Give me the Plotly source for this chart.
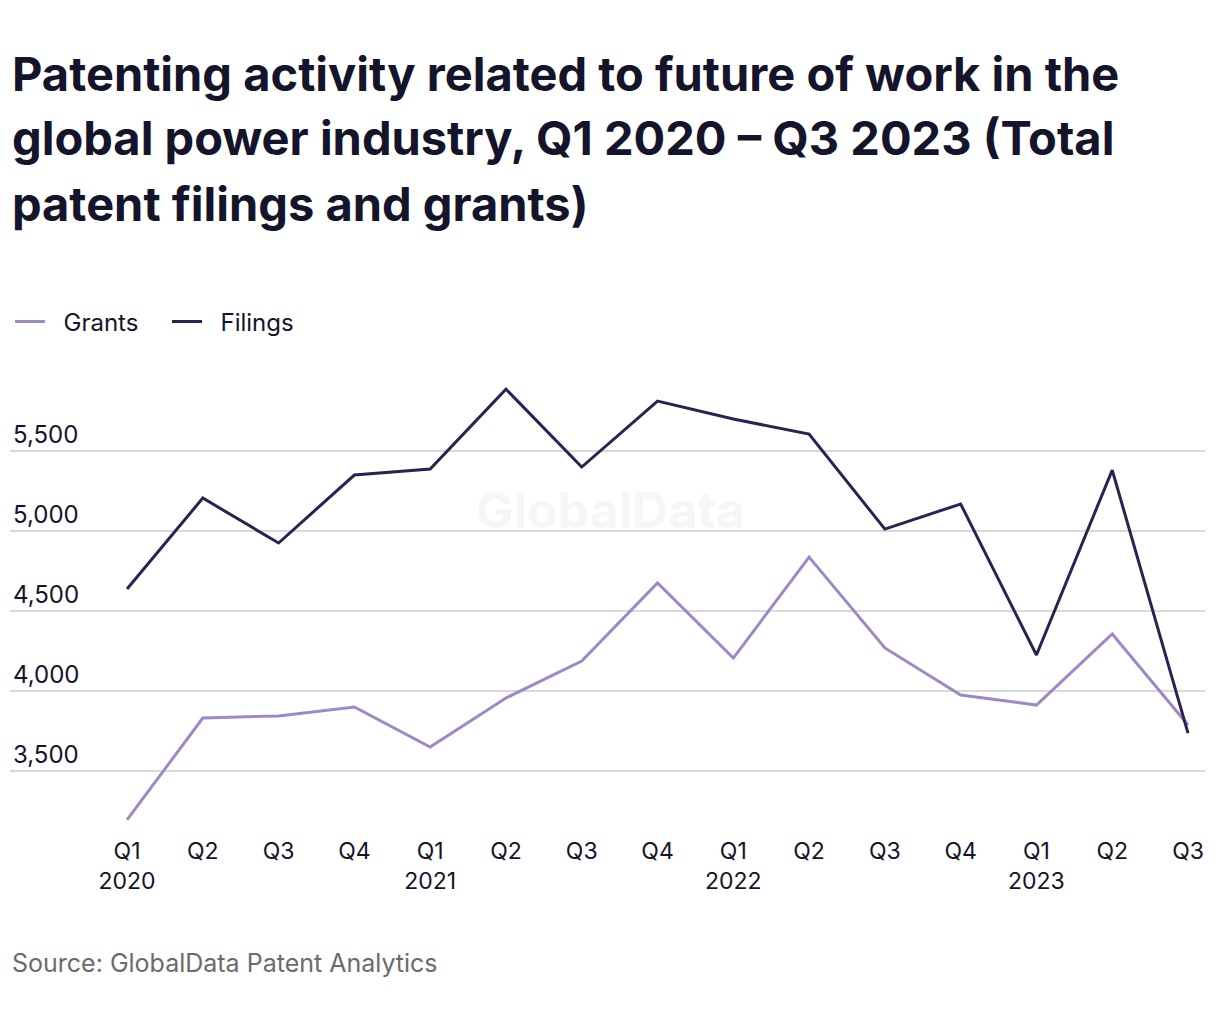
import plotly.graph_objects as go

quarters = ["Q1<br>2020", "Q2", "Q3", "Q4", "Q1<br>2021", "Q2", "Q3", "Q4",
            "Q1<br>2022", "Q2", "Q3", "Q4", "Q1<br>2023", "Q2", "Q3"]
grants = [3194, 3831, 3844, 3900, 3650, 3956, 4187, 4675, 4206, 4837, 4269, 3975, 3912, 4356, 3787]
filings = [4637, 5206, 4925, 5350, 5387, 5887, 5400, 5812, 5700, 5606, 5012, 5169, 4225, 5381, 3737]
y_ticks = [3500, 4000, 4500, 5000, 5500]

title_lines = [
    "Patenting activity related to future of work in the",
    "global power industry, Q1 2020 \u2013 Q3 2023 (Total",
    "patent filings and grants)",
]

W, H = 1204, 1004
FONT = "Inter, Roboto, sans-serif"
TXT = "#14142b"

xs = list(range(len(quarters)))

fig = go.Figure()
fig.add_trace(go.Scatter(x=xs, y=grants, mode="lines", name="\u00a0\u00a0Grants",
                         line=dict(color="#9f88c6", width=3)))
fig.add_trace(go.Scatter(x=xs, y=filings, mode="lines", name="\u00a0\u00a0Filings",
                         line=dict(color="#2e2150", width=3)))

annotations = []
for i, line in enumerate(title_lines):
    annotations.append(dict(
        text="<b>" + line + "</b>", xref="paper", yref="paper",
        x=0, y=1 + (380 - (73 + 65 * i)) / 450, xanchor="left", yanchor="middle",
        showarrow=False, font=dict(family=FONT, size=47, color=TXT)))
annotations.append(dict(
    text="Source: GlobalData Patent Analytics", xref="paper", yref="paper",
    x=0, y=(830 - 963) / 450, xanchor="left", yanchor="middle", showarrow=False,
    font=dict(family=FONT, size=25, color="#6b6b6b")))
annotations.append(dict(
    text="<b>GlobalData</b>", xref="paper", yref="paper",
    x=(610 - 10) / 1195, y=(830 - 510) / 450, xanchor="center", yanchor="middle",
    showarrow=False, font=dict(family=FONT, size=50, color="#f6f6f6")))

fig.update_layout(
    width=W, height=H,
    margin=dict(l=2, r=7, t=372, b=182),
    paper_bgcolor="white", plot_bgcolor="white",
    font=dict(family=FONT, size=24, color=TXT),
    showlegend=True,
    legend=dict(orientation="h", x=0, xanchor="left", y=1 + (380 - 322) / 450,
                yanchor="middle", font=dict(family=FONT, size=24, color=TXT),
                itemwidth=30, entrywidth=112, entrywidthmode="pixels",
                traceorder="normal", bgcolor="rgba(0,0,0,0)"),
    xaxis=dict(range=[-1.544, 14.224], tickmode="array", tickvals=xs, ticktext=quarters,
               showgrid=False, zeroline=False, showline=False, ticks="",
               ticklabelstandoff=5,
               tickfont=dict(family=FONT, size=23, color=TXT)),
    yaxis=dict(range=[3131, 5944], tickmode="array", tickvals=y_ticks,
               tickformat=",", showgrid=True, gridcolor="#d9d9d9", gridwidth=2,
               zeroline=False, showline=False, ticks="",
               ticklabelposition="inside top",
               tickfont=dict(family=FONT, size=24, color=TXT)),
    annotations=annotations,
)

fig.write_html("out.html")
